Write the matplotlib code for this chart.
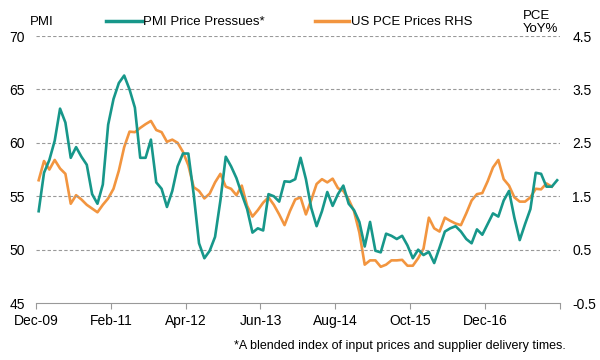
import numpy as np
import matplotlib.pyplot as plt

plt.rcParams['font.family'] = ['Liberation Sans', 'DejaVu Sans']

# monthly readings, first point Dec-09
pmi_price = [53.6, 57.2, 58.4, 60.2, 63.2, 61.9, 58.6, 59.6, 58.7, 57.95,
             55.2, 54.3, 56.1, 61.7, 64.1, 65.6, 66.3, 65.0, 63.3, 58.6,
             58.6, 60.3, 56.3, 55.7, 54.0, 55.5, 57.8, 59.0, 59.0, 55.2,
             50.6, 49.2, 49.9, 51.2, 54.6, 58.7, 57.8, 56.7, 55.2, 53.8,
             51.6, 52.0, 51.8, 55.2, 55.0, 54.5, 56.4, 56.35, 56.6, 58.6,
             56.6, 53.9, 52.2, 53.6, 55.4, 54.1, 55.2, 56.0, 54.3, 53.7,
             52.6, 50.3, 52.6, 49.9, 49.75, 51.5, 51.3, 51.0, 51.3, 50.4,
             49.2, 50.0, 49.5, 49.8, 48.75, 50.2, 51.7, 52.0, 52.2, 51.7,
             51.0, 50.6, 51.9, 51.4, 52.4, 53.4, 53.1, 54.6, 55.5, 53.0,
             50.9, 52.4, 53.8, 57.2, 57.1, 55.9, 55.9, 56.5]

pce_yoy = [1.80, 2.16, 2.00, 2.18, 2.02, 1.92, 1.36, 1.52, 1.44, 1.34,
           1.27, 1.20, 1.34, 1.46, 1.64, 1.98, 2.42, 2.71, 2.70, 2.78,
           2.85, 2.91, 2.74, 2.70, 2.52, 2.56, 2.50, 2.33, 2.08, 1.67,
           1.60, 1.46, 1.55, 1.76, 1.92, 1.68, 1.64, 1.52, 1.70, 1.32,
           1.12, 1.24, 1.38, 1.48, 1.34, 1.16, 0.96, 1.22, 1.44, 1.48,
           1.16, 1.43, 1.73, 1.82, 1.76, 1.83, 1.65, 1.60, 1.44, 1.22,
           0.82, 0.22, 0.30, 0.30, 0.18, 0.22, 0.30, 0.30, 0.31, 0.20,
           0.20, 0.34, 0.52, 1.10, 0.90, 0.84, 1.10, 1.04, 0.99, 0.96,
           1.18, 1.42, 1.54, 1.56, 1.78, 2.04, 2.18, 1.82, 1.70, 1.48,
           1.40, 1.40, 1.48, 1.64, 1.63, 1.74, 1.68]

tick_labels = ['Dec-09', 'Feb-11', 'Apr-12', 'Jun-13', 'Aug-14', 'Oct-15', 'Dec-16', '']
left_ticks = [45, 50, 55, 60, 65, 70]
right_ticks = [-0.5, 0.5, 1.5, 2.5, 3.5, 4.5]

teal = '#17978a'
orange = '#f2953f'

x_pmi = np.arange(len(pmi_price)) + 0.5
x_pce = np.arange(len(pce_yoy)) + 0.5

fig = plt.figure(figsize=(6, 3.6), dpi=100)
ax = fig.add_axes([0.06, 0.158, 0.873, 0.742])
ax2 = ax.twinx()

ax.plot(x_pmi, pmi_price, color=teal, lw=1.9, zorder=3)
ax2.plot(x_pce, pce_yoy, color=orange, lw=1.9, zorder=2)
ax.set_zorder(ax2.get_zorder() + 1)
ax.patch.set_visible(False)

ax.set_xlim(0, 98)
ax.set_ylim(45, 70)
ax2.set_ylim(-0.5, 4.5)

for v in left_ticks[1:]:
    ax.axhline(v, color='#999999', lw=0.8, ls=(0, (3, 2)), zorder=1)

ax.set_xticks(np.arange(0, 99, 14))
ax.set_xticklabels(tick_labels)
ax.set_yticks(left_ticks)
ax2.set_yticks(right_ticks)
ax2.set_yticklabels([f'{v:.1f}' for v in right_ticks])

for a in (ax, ax2):
    for s in a.spines.values():
        s.set_visible(False)
ax.spines['bottom'].set_visible(True)
ax.spines['bottom'].set_color('#999999')
ax.spines['bottom'].set_linewidth(0.8)

ax.tick_params(axis='x', length=4, width=0.8, color='#999999', labelsize=10, pad=4)
ax.tick_params(axis='y', length=0, labelsize=10, pad=8)
ax2.tick_params(axis='y', length=0, labelsize=10, pad=9)

fig.text(0.05, 0.94, 'PMI', fontsize=9.5, va='center', ha='left')
fig.lines.append(plt.Line2D([0.177, 0.237], [0.942, 0.942], color=teal, lw=2.5,
                            transform=fig.transFigure))
fig.text(0.239, 0.94, 'PMI Price Pressues*', fontsize=9.5, va='center', ha='left')
fig.lines.append(plt.Line2D([0.525, 0.582], [0.942, 0.942], color=orange, lw=2.5,
                            transform=fig.transFigure))
fig.text(0.585, 0.94, 'US PCE Prices RHS', fontsize=9.5, va='center', ha='left')
fig.text(0.871, 0.937, 'PCE\nYoY%', fontsize=9.5, va='center', ha='left',
         linespacing=1.15)
fig.text(0.943, 0.04, '*A blended index of input prices and supplier delivery times.',
         fontsize=9, va='center', ha='right')

fig.savefig('out.png', dpi=100)
